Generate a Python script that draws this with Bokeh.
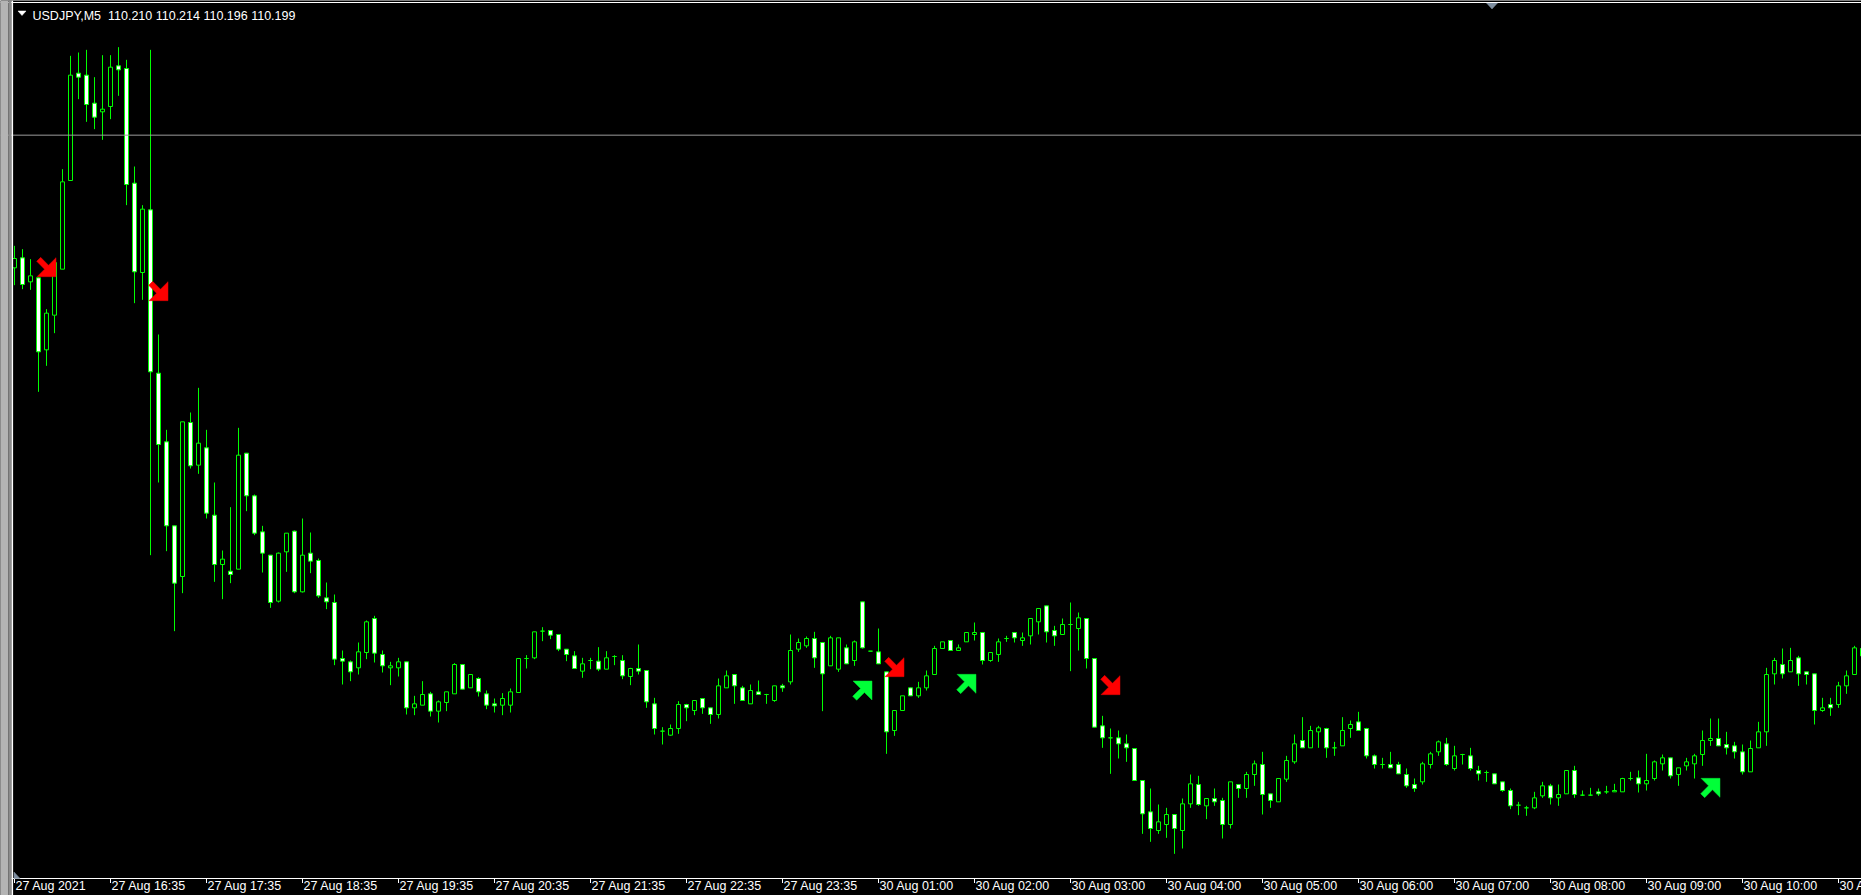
import math
from bokeh.plotting import figure
from bokeh.models import Range1d, Span, Label, BoxAnnotation, ColumnDataSource
from bokeh.embed import file_html
from bokeh.resources import INLINE
from bokeh.core.properties import value

# ---------------- data ----------------
symbol = "USDJPY,M5"

opens = [110.781, 110.796, 110.760, 110.766, 110.658, 110.710, 110.779, 110.912, 111.073, 111.070,
         111.028, 111.015, 111.023, 111.084, 111.080, 110.908, 110.774, 110.868, 110.623, 110.520,
         110.394, 110.318, 110.549, 110.485, 110.511, 110.410, 110.336, 110.326, 110.329, 110.503,
         110.439, 110.385, 110.350, 110.281, 110.355, 110.386, 110.295, 110.353, 110.342, 110.286,
         110.279, 110.195, 110.190, 110.181, 110.204, 110.255, 110.201, 110.181, 110.181, 110.190,
         110.121, 110.125, 110.142, 110.116, 110.129, 110.142, 110.186, 110.151, 110.165, 110.142,
         110.127, 110.125, 110.125, 110.144, 110.195, 110.196, 110.236, 110.237, 110.231, 110.209,
         110.199, 110.176, 110.192, 110.191, 110.179, 110.198, 110.192, 110.168, 110.180, 110.177,
         110.127, 110.086, 110.080, 110.090, 110.126, 110.117, 110.135, 110.121, 110.111, 110.151,
         110.171, 110.151, 110.127, 110.145, 110.141, 110.132, 110.154, 110.160, 110.209, 110.214,
         110.225, 110.219, 110.184, 110.179, 110.211, 110.192, 110.280, 110.206, 110.205, 110.175,
         110.087, 110.117, 110.151, 110.139, 110.151, 110.171, 110.210, 110.222, 110.207, 110.220,
         110.231, 110.234, 110.192, 110.201, 110.225, 110.234, 110.222, 110.229, 110.250, 110.274,
         110.237, 110.231, 110.246, 110.240, 110.255, 110.195, 110.094, 110.076, 110.076, 110.067,
         110.060, 110.012, 109.965, 109.937, 109.946, 109.961, 109.937, 109.977, 110.006, 109.974,
         109.985, 109.982, 109.946, 110.006, 110.000, 110.021, 110.036, 109.992, 109.980, 110.014,
         110.040, 110.072, 110.061, 110.085, 110.090, 110.061, 110.064, 110.090, 110.100, 110.090,
         110.049, 110.036, 110.036, 110.036, 110.021, 110.006, 110.010, 110.036, 110.055, 110.067,
         110.030, 110.051, 110.049, 110.027, 110.024, 110.022, 110.010, 109.997, 109.975, 109.971,
         109.971, 109.989, 110.004, 109.986, 109.992, 110.027, 109.990, 109.990, 109.995, 109.995,
         109.995, 109.995, 110.015, 110.016, 110.007, 110.015, 110.037, 110.046, 110.021, 110.034,
         110.037, 110.051, 110.072, 110.075, 110.066, 110.064, 110.055, 110.025, 110.061, 110.085,
         110.172, 110.186, 110.175, 110.196, 110.175, 110.172, 110.117, 110.126, 110.126, 110.154,
         110.171, 110.210]

highs = [110.814, 110.809, 110.794, 110.767, 110.719, 110.790, 110.929, 111.099, 111.104, 111.108,
         111.067, 111.100, 111.100, 111.112, 111.093, 110.933, 110.875, 111.108, 110.681, 110.538,
         110.394, 110.550, 110.564, 110.601, 110.538, 110.459, 110.357, 110.422, 110.541, 110.503,
         110.441, 110.394, 110.350, 110.354, 110.383, 110.387, 110.405, 110.384, 110.345, 110.309,
         110.291, 110.207, 110.192, 110.219, 110.252, 110.259, 110.207, 110.190, 110.196, 110.190,
         110.139, 110.161, 110.145, 110.132, 110.145, 110.188, 110.186, 110.171, 110.167, 110.147,
         110.135, 110.143, 110.150, 110.195, 110.200, 110.235, 110.242, 110.237, 110.231, 110.209,
         110.206, 110.196, 110.196, 110.212, 110.206, 110.200, 110.200, 110.181, 110.216, 110.177,
         110.136, 110.092, 110.096, 110.131, 110.127, 110.132, 110.135, 110.121, 110.165, 110.177,
         110.171, 110.154, 110.156, 110.162, 110.142, 110.154, 110.157, 110.231, 110.225, 110.228,
         110.235, 110.219, 110.229, 110.226, 110.216, 110.222, 110.280, 110.206, 110.240, 110.175,
         110.117, 110.139, 110.151, 110.160, 110.177, 110.214, 110.220, 110.222, 110.216, 110.234,
         110.249, 110.234, 110.204, 110.225, 110.229, 110.234, 110.234, 110.255, 110.270, 110.274,
         110.244, 110.255, 110.279, 110.264, 110.255, 110.195, 110.109, 110.090, 110.087, 110.081,
         110.060, 110.012, 110.000, 109.976, 109.971, 109.961, 109.985, 110.021, 110.019, 109.985,
         110.000, 109.986, 110.010, 110.006, 110.025, 110.042, 110.055, 109.992, 110.015, 110.049,
         110.081, 110.107, 110.094, 110.094, 110.091, 110.070, 110.107, 110.102, 110.115, 110.091,
         110.051, 110.046, 110.055, 110.040, 110.030, 110.015, 110.040, 110.055, 110.072, 110.076,
         110.064, 110.052, 110.061, 110.034, 110.027, 110.022, 110.010, 110.000, 109.980, 109.974,
         109.995, 110.010, 110.007, 110.006, 110.027, 110.034, 109.997, 110.001, 110.000, 110.004,
         110.007, 110.016, 110.025, 110.027, 110.052, 110.042, 110.051, 110.046, 110.031, 110.046,
         110.052, 110.087, 110.105, 110.105, 110.085, 110.070, 110.066, 110.072, 110.100, 110.181,
         110.196, 110.210, 110.211, 110.199, 110.175, 110.172, 110.136, 110.136, 110.160, 110.177,
         110.214, 110.214]

lows = [110.755, 110.749, 110.748, 110.595, 110.634, 110.683, 110.779, 110.912, 111.034, 111.000,
        110.989, 110.973, 111.004, 111.039, 110.875, 110.728, 110.733, 110.350, 110.459, 110.356,
        110.236, 110.293, 110.480, 110.472, 110.405, 110.310, 110.284, 110.308, 110.329, 110.416,
        110.380, 110.324, 110.271, 110.279, 110.325, 110.293, 110.294, 110.323, 110.286, 110.269,
        110.185, 110.156, 110.161, 110.171, 110.194, 110.189, 110.174, 110.155, 110.168, 110.111,
        110.110, 110.125, 110.108, 110.099, 110.116, 110.142, 110.149, 110.151, 110.138, 110.119,
        110.114, 110.110, 110.114, 110.144, 110.180, 110.194, 110.221, 110.224, 110.206, 110.191,
        110.180, 110.166, 110.179, 110.176, 110.179, 110.185, 110.164, 110.155, 110.171, 110.121,
        110.081, 110.066, 110.079, 110.082, 110.101, 110.110, 110.112, 110.097, 110.105, 110.151,
        110.127, 110.132, 110.127, 110.141, 110.127, 110.130, 110.145, 110.156, 110.205, 110.211,
        110.181, 110.116, 110.184, 110.175, 110.187, 110.184, 110.210, 110.206, 110.187, 110.052,
        110.079, 110.117, 110.139, 110.136, 110.147, 110.171, 110.210, 110.207, 110.207, 110.220,
        110.222, 110.186, 110.190, 110.190, 110.220, 110.219, 110.214, 110.216, 110.231, 110.219,
        110.214, 110.231, 110.176, 110.207, 110.180, 110.092, 110.061, 110.022, 110.045, 110.040,
        110.012, 109.932, 109.920, 109.932, 109.926, 109.902, 109.910, 109.971, 109.974, 109.954,
        109.974, 109.925, 109.940, 109.986, 109.986, 110.004, 109.961, 109.971, 109.980, 110.010,
        110.037, 110.061, 110.061, 110.061, 110.046, 110.049, 110.064, 110.076, 110.087, 110.045,
        110.030, 110.030, 110.031, 110.022, 110.001, 109.995, 110.006, 110.030, 110.049, 110.034,
        110.027, 110.036, 110.027, 110.012, 110.010, 110.007, 109.995, 109.969, 109.960, 109.959,
        109.969, 109.986, 109.976, 109.974, 109.992, 109.986, 109.989, 109.989, 109.989, 109.992,
        109.995, 109.995, 110.012, 109.994, 109.997, 110.012, 110.027, 110.015, 110.004, 110.027,
        110.015, 110.034, 110.064, 110.064, 110.051, 110.045, 110.021, 110.025, 110.061, 110.064,
        110.156, 110.165, 110.175, 110.154, 110.156, 110.096, 110.115, 110.109, 110.121, 110.142,
        110.171, 110.196]

closes = [110.795, 110.756, 110.769, 110.655, 110.713, 110.789, 110.910, 111.070, 111.067, 111.026,
          111.007, 111.019, 111.082, 111.078, 110.906, 110.775, 110.869, 110.625, 110.516, 110.394,
          110.308, 110.550, 110.484, 110.518, 110.413, 110.336, 110.344, 110.321, 110.500, 110.439,
          110.383, 110.353, 110.279, 110.353, 110.383, 110.295, 110.350, 110.341, 110.289, 110.280,
          110.194, 110.191, 110.175, 110.205, 110.250, 110.203, 110.184, 110.184, 110.190, 110.121,
          110.127, 110.141, 110.116, 110.130, 110.145, 110.186, 110.149, 110.171, 110.145, 110.125,
          110.124, 110.135, 110.145, 110.195, 110.195, 110.235, 110.236, 110.230, 110.209, 110.201,
          110.180, 110.187, 110.192, 110.179, 110.196, 110.198, 110.169, 110.180, 110.176, 110.130,
          110.090, 110.086, 110.090, 110.126, 110.121, 110.132, 110.121, 110.111, 110.154, 110.169,
          110.154, 110.132, 110.147, 110.141, 110.141, 110.154, 110.151, 110.207, 110.219, 110.225,
          110.196, 110.172, 110.226, 110.226, 110.187, 110.220, 110.211, 110.206, 110.187, 110.085,
          110.117, 110.139, 110.139, 110.151, 110.169, 110.210, 110.220, 110.207, 110.211, 110.234,
          110.234, 110.192, 110.204, 110.220, 110.225, 110.226, 110.226, 110.255, 110.270, 110.235,
          110.229, 110.246, 110.246, 110.256, 110.195, 110.092, 110.076, 110.076, 110.067, 110.061,
          110.012, 109.962, 109.940, 109.950, 109.961, 109.940, 109.977, 110.007, 109.976, 109.985,
          109.980, 109.946, 110.010, 110.000, 110.021, 110.037, 109.991, 109.982, 110.015, 110.042,
          110.067, 110.061, 110.087, 110.091, 110.061, 110.061, 110.087, 110.096, 110.087, 110.049,
          110.036, 110.036, 110.031, 110.022, 110.004, 110.000, 110.037, 110.052, 110.070, 110.036,
          110.049, 110.051, 110.030, 110.022, 110.024, 110.007, 109.997, 109.974, 109.975, 109.971,
          109.986, 110.004, 109.986, 109.991, 110.027, 109.991, 109.990, 109.990, 109.992, 109.995,
          109.997, 110.015, 110.015, 110.007, 110.012, 110.040, 110.046, 110.019, 110.031, 110.040,
          110.049, 110.072, 110.075, 110.064, 110.061, 110.055, 110.025, 110.060, 110.085, 110.171,
          110.192, 110.172, 110.192, 110.172, 110.171, 110.117, 110.121, 110.121, 110.154, 110.169,
          110.211, 110.199]

tick_bars = [0, 12, 24, 36, 48, 60, 72, 84, 96, 108, 120, 132, 144, 156, 168, 180, 192, 204, 216, 228]
tick_labels = ["27 Aug 2021", "27 Aug 16:35", "27 Aug 17:35", "27 Aug 18:35", "27 Aug 19:35",
               "27 Aug 20:35", "27 Aug 21:35", "27 Aug 22:35", "27 Aug 23:35", "30 Aug 01:00",
               "30 Aug 02:00", "30 Aug 03:00", "30 Aug 04:00", "30 Aug 05:00", "30 Aug 06:00",
               "30 Aug 07:00", "30 Aug 08:00", "30 Aug 09:00", "30 Aug 10:00", "30 Aug 11:00"]

sell_bar = [4, 18, 110, 137]
sell_price = [110.782, 110.746, 110.182, 110.155]
buy_bar = [106, 119, 212]
buy_price = [110.147, 110.157, 110.001]

level_price = 110.980

# ---------------- layout constants (page pixels) ----------------
W, H = 1861, 895
BAR_PX = 8.0
PRICE_PER_PX = 0.0015
FIRST_BAR_PAGE_X = 14.0
PRICE_AT_PAGE_Y0 = 111.182
AXIS_Y = 878.0
LABEL_BASELINE = 885.5
FONT = "Liberation Sans"
GREEN = "#00ff00"
SLATE = "#7f8fa0"

x_start = -FIRST_BAR_PAGE_X / BAR_PX
x_end = x_start + W / BAR_PX
y_end = PRICE_AT_PAGE_Y0
y_start = y_end - H * PRICE_PER_PX


def px2x(page_x):
    return x_start + page_x / BAR_PX


def px2y(page_y):
    return y_end - page_y * PRICE_PER_PX


p = figure(width=W, height=H, x_range=Range1d(x_start, x_end), y_range=Range1d(y_start, y_end),
           output_backend="svg", toolbar_location=None, x_axis_location=None, y_axis_location=None,
           min_border_left=0, min_border_right=0, min_border_top=0, min_border_bottom=0,
           background_fill_color="black", border_fill_color="black", outline_line_color=None)
p.title = None
p.xgrid.visible = False
p.ygrid.visible = False

# horizontal level line
p.add_layout(Span(location=level_price, dimension="width", line_color="#9c9c9c", line_width=1))
# top border line
p.add_layout(Span(location=px2y(2), dimension="width", line_color="white", line_width=1))

# candles
idx = list(range(len(opens)))
p.segment(x0=idx, y0=lows, x1=idx, y1=highs, line_color=GREEN, line_width=1)

bull = [i for i in idx if closes[i] >= opens[i]]
bear = [i for i in idx if closes[i] < opens[i]]
src_bull = ColumnDataSource(dict(x=bull, top=[closes[i] for i in bull], bottom=[opens[i] for i in bull]))
src_bear = ColumnDataSource(dict(x=bear, top=[opens[i] for i in bear], bottom=[closes[i] for i in bear]))
p.vbar(x="x", top="top", bottom="bottom", width=4 / BAR_PX, source=src_bull,
       fill_color="black", line_color=GREEN, line_width=1)
p.vbar(x="x", top="top", bottom="bottom", width=4 / BAR_PX, source=src_bear,
       fill_color="white", line_color=GREEN, line_width=1)

# signal arrows (thick corner arrows in a ~19px box)
HEAD = 13.43
HALF_W = 13.43
SHAFT = 2.8
TAIL = 24.5


def arrow_poly(bar, price, down):
    sgn = 1 if down else -1
    tip = (9.5, 9.5 * sgn)
    d = (1 / math.sqrt(2), sgn / math.sqrt(2))
    n = (1 / math.sqrt(2), -sgn / math.sqrt(2))
    uv = [(0, 0), (-HEAD, HALF_W), (-HEAD, SHAFT), (-TAIL, SHAFT), (-TAIL, -SHAFT),
          (-HEAD, -SHAFT), (-HEAD, -HALF_W)]
    xs, ys = [], []
    for u, v in uv:
        sx = tip[0] + u * d[0] + v * n[0]
        sy = tip[1] + u * d[1] + v * n[1]
        xs.append(bar + sx / BAR_PX)
        ys.append(price - sy * PRICE_PER_PX)
    return xs, ys


sx_list, sy_list = [], []
for b, pr in zip(sell_bar, sell_price):
    a, c = arrow_poly(b, pr, True)
    sx_list.append(a)
    sy_list.append(c)
p.patches(sx_list, sy_list, fill_color="#ff0000", line_color="#e00000", line_width=0.5)

bx_list, by_list = [], []
for b, pr in zip(buy_bar, buy_price):
    a, c = arrow_poly(b, pr, False)
    bx_list.append(a)
    by_list.append(c)
p.patches(bx_list, by_list, fill_color="#00ff38", line_color="#00e030", line_width=0.5)

# time axis: line, ticks and left-aligned labels
p.segment(x0=[px2x(11)], y0=[px2y(AXIS_Y)], x1=[x_end], y1=[px2y(AXIS_Y)], line_color="white", line_width=1)
p.segment(x0=tick_bars, y0=[px2y(AXIS_Y)] * len(tick_bars), x1=tick_bars,
          y1=[px2y(AXIS_Y + 4.5)] * len(tick_bars), line_color="white", line_width=1)
p.text(x=[b + 1.0 / BAR_PX for b in tick_bars], y=[px2y(LABEL_BASELINE)] * len(tick_bars), text=tick_labels,
       text_align="left", text_baseline="alphabetic", text_color="white",
       text_font=value(FONT), text_font_size="12.5px")

# header: collapse triangle + symbol and last bar OHLC
p.patch([px2x(17.5), px2x(25.5), px2x(21.5)], [px2y(10.5), px2y(10.5), px2y(15)],
        fill_color="white", line_color="white", line_width=0.5)
title_text = f"{symbol}\u00a0 {opens[-1]:.3f} {highs[-1]:.3f} {lows[-1]:.3f} {closes[-1]:.3f}"
p.add_layout(Label(x=px2x(32), y=px2y(15.5), text=title_text, text_color="white",
                   text_font=FONT, text_font_size="12.5px", text_baseline="alphabetic"))

# chart-shift and scale-fix markers
p.patch([px2x(1486), px2x(1497), px2x(1491.5)], [px2y(2.5), px2y(2.5), px2y(8.5)],
        fill_color=SLATE, line_color=SLATE, line_width=0.5)
p.patch([px2x(13.5), px2x(13.5), px2x(19.5)], [px2y(871.5), px2y(878), px2y(878)],
        fill_color=SLATE, line_color=SLATE, line_width=0.5)

# window frame on the left
p.add_layout(BoxAnnotation(right=px2x(8), fill_color="#b4b4b4", fill_alpha=1.0, line_color=None))
p.add_layout(BoxAnnotation(left=px2x(8), right=px2x(11), fill_color="#8c8c8c", fill_alpha=1.0, line_color=None))
p.add_layout(BoxAnnotation(left=px2x(11), right=px2x(12.6), fill_color="white", fill_alpha=1.0, line_color=None))

open("out.html", "w").write(file_html(p, INLINE))
